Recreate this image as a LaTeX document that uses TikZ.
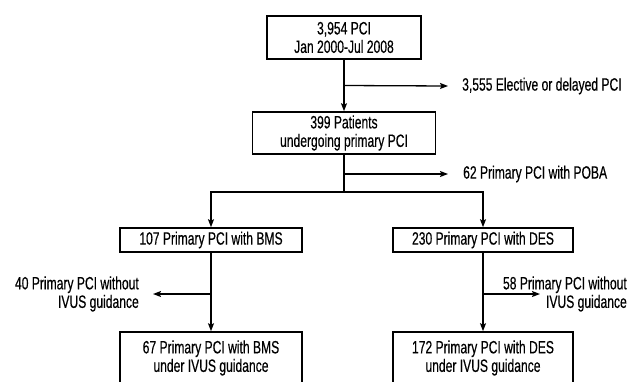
\documentclass[tikz,border=0pt]{standalone}
\usepackage{fontspec}
\setmainfont{Liberation Sans}[FakeStretch=0.68, FakeBold=0.4]
\usetikzlibrary{arrows.meta, calc}
\newcommand{\flowfont}{\fontsize{17.8pt}{18.5pt}\selectfont}
\tikzset{
  box/.style={draw, line width=1.6pt, inner sep=2pt, align=center, font=\flowfont},
  side/.style={inner sep=0pt, font=\flowfont},
  lin/.style={line width=1.3pt},
  tra/.style={lin, -{Stealth[length=8pt, width=6pt, inset=1.5pt]}}
}

\begin{document}
\begin{tikzpicture}[x=1pt, y=-1pt]
		\useasboundingbox (0,0) rectangle (631,381);
		\clip (0,0) rectangle (631,381);
		% boxes
		\node[box, minimum width=154pt, minimum height=43pt] (all) at (344,37.5) {3,954 PCI\\Jan 2000-Jul 2008};
		\node[box, minimum width=183pt, minimum height=42pt] (pri) at (344,133) {399 Patients\\undergoing primary PCI};
		\node[box, minimum width=182pt, minimum height=24pt] (bms) at (211,240) {107 Primary PCI with BMS};
		\node[box, minimum width=180pt, minimum height=24pt] (des) at (483,240) {230 Primary PCI with DES};
		\node[box, minimum width=182pt, minimum height=52pt] (bmsi) at (211,358) {67 Primary PCI with BMS\\under IVUS guidance};
		\node[box, minimum width=180pt, minimum height=52pt] (desi) at (483,358) {172 Primary PCI with DES\\under IVUS guidance};
		% excluded
		\node[side, anchor=west] (ele) at (462,86) {3,555 Elective or delayed PCI};
		\node[side, anchor=west] (poba) at (463,174) {62 Primary PCI with POBA};
		\node[side, anchor=east, align=right] (bmsx) at (139,294) {40 Primary PCI without\\IVUS guidance};
		\node[side, anchor=east, align=right] (desx) at (627,294) {58 Primary PCI without\\IVUS guidance};
		% connectors
		\coordinate (s1) at ($(all.south)!0.5!(pri.north)$);
		\coordinate (s2) at (344,174);
		\coordinate (fork) at (344,192);
		\coordinate (s3) at (211,294);
		\coordinate (s4) at (483,294);
		\draw[tra] (all) -- (pri);
		\draw[tra] (s1) -- ([xshift=-14pt]ele.west);
		\draw[lin] (pri) -- (fork);
		\draw[tra] (s2) -- ([xshift=-15pt]poba.west);
		\draw[tra] (fork) -| (bms);
		\draw[tra] (fork) -| (des);
		\draw[tra] (bms) -- (bmsi);
		\draw[tra] (des) -- (desi);
		\draw[tra] (s3) -- ([xshift=14pt]bmsx.east);
		\draw[tra] (s4) -- ++(57,0) coordinate (t4);
	\end{tikzpicture}
\end{document}
